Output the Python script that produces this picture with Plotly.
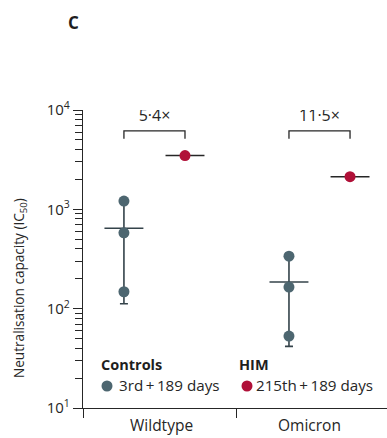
import numpy as np
import plotly.graph_objects as go

# Neutralisation capacity (IC50) per variant
variants = ["Wildtype", "Omicron"]
controls_wildtype = [1210, 580, 148]
controls_omicron = [338, 165, 53]
him_wildtype = [3480]
him_omicron = [2130]

group_controls = "Controls"
group_him = "HIM"
label_controls = "3rd\u2009+\u2009189 days"
label_him = "215th\u2009+\u2009189 days"
y_tickvals = [10, 100, 1000, 10000]
y_ticktext = ["10<sup>1</sup>", "10<sup>2</sup>", "10<sup>3</sup>", "10<sup>4</sup>"]

CTRL = "#4d6670"
HIMC = "#b01038"
INK = "#262626"
BAR = "#34434a"
FONT = "Open Sans"

OFFSET = 0.185      # horizontal offset of each cohort from the variant centre
HALF = 0.118        # half width of the mean line

fig = go.Figure()

ctrl_sets = [controls_wildtype, controls_omicron]
him_sets = [him_wildtype, him_omicron]

for gi, (ctrl, him) in enumerate(zip(ctrl_sets, him_sets)):
    xc = gi - OFFSET
    xh = gi + OFFSET
    c = np.array(ctrl, dtype=float)
    mean_c = c.mean()
    sd_c = c.std(ddof=1)
    mean_h = float(np.mean(him))

    # mean ± SD bar and mean line for controls
    fig.add_trace(go.Scatter(
        x=[xc], y=[mean_c], mode="markers",
        marker=dict(size=1, color="rgba(0,0,0,0)"),
        error_y=dict(type="data", symmetric=False,
                     array=[sd_c], arrayminus=[sd_c],
                     color=BAR, thickness=1.6, width=4),
        error_x=dict(type="constant", value=HALF, color=BAR,
                     thickness=1.4, width=0),
        showlegend=False, hoverinfo="skip"))
    fig.add_trace(go.Scatter(
        x=[xc] * len(ctrl), y=ctrl, mode="markers",
        marker=dict(size=11, color=CTRL),
        showlegend=False))

    # mean line for HIM
    fig.add_trace(go.Scatter(
        x=[xh], y=[mean_h], mode="markers",
        marker=dict(size=1, color="rgba(0,0,0,0)"),
        error_x=dict(type="constant", value=HALF, color=INK,
                     thickness=1.4, width=0),
        showlegend=False, hoverinfo="skip"))
    fig.add_trace(go.Scatter(
        x=[xh], y=him, mode="markers",
        marker=dict(size=11, color=HIMC),
        showlegend=False))

    # fold-change bracket
    ratio = mean_h / mean_c
    top = 10 ** 3.79
    low = 10 ** 3.71
    fig.add_trace(go.Scatter(
        x=[xc, xc, xh, xh], y=[low, top, top, low], mode="lines",
        line=dict(color=INK, width=1.3),
        showlegend=False, hoverinfo="skip"))
    fig.add_trace(go.Scatter(
        x=[gi], y=[10 ** 3.93], mode="text",
        text=[f"{ratio:.1f}".replace(".", "·") + "×"],
        textposition="middle center",
        textfont=dict(family=FONT, size=16, color=INK),
        showlegend=False, hoverinfo="skip"))


def px_x(p):
    return (p - 83) / 304


def px_y(p):
    return (408 - p) / 298


annotations = []
# category labels
for xpos, name in zip([0.04, 0.94], variants):
    annotations.append(dict(x=xpos, xref="x", y=px_y(425), yref="paper",
                            text=name, showarrow=False, yanchor="middle",
                            font=dict(family=FONT, size=15.5, color=INK)))

annotations += [
    dict(x=px_x(99), y=px_y(364), xref="paper", yref="paper",
         xanchor="left", yanchor="middle",
         text=f"<b>{group_controls}</b>", showarrow=False,
         font=dict(family=FONT, size=14.5, color="#1e1e1e")),
    dict(x=px_x(237), y=px_y(364), xref="paper", yref="paper",
         xanchor="left", yanchor="middle",
         text=f"<b>{group_him}</b>", showarrow=False,
         font=dict(family=FONT, size=14.5, color="#1e1e1e")),
    dict(x=px_x(117), y=px_y(385), xref="paper", yref="paper",
         xanchor="left", yanchor="middle",
         text=label_controls, showarrow=False,
         font=dict(family=FONT, size=15.2, color=INK)),
    dict(x=px_x(254), y=px_y(385), xref="paper", yref="paper",
         xanchor="left", yanchor="middle",
         text=label_him, showarrow=False,
         font=dict(family=FONT, size=15.2, color=INK)),
    # axis title
    dict(x=px_x(19), y=px_y(288), xref="paper", yref="paper",
         xanchor="center", yanchor="middle",
         text="Neutralisation capacity (IC<sub>50</sub>)", textangle=-90,
         showarrow=False, font=dict(family=FONT, size=13.6, color=INK)),
    # panel letter
    dict(x=px_x(73), y=px_y(22), xref="paper", yref="paper",
         xanchor="center", yanchor="middle",
         text="<b>C</b>", showarrow=False,
         font=dict(family=FONT, size=17, color="#1e1e1e")),
]

shapes = []
for cx, col in [(107, CTRL), (247, HIMC)]:
    shapes.append(dict(type="circle", xref="paper", yref="paper",
                       xsizemode="pixel", ysizemode="pixel",
                       xanchor=px_x(cx), yanchor=px_y(386),
                       x0=-5.5, x1=5.5, y0=-5.5, y1=5.5,
                       fillcolor=col, line=dict(width=0)))

fig.update_layout(
    width=387, height=438,
    margin=dict(l=83, r=0, t=110, b=30),
    plot_bgcolor="white", paper_bgcolor="white",
    font=dict(family=FONT, size=12, color=INK),
    annotations=annotations, shapes=shapes,
    showlegend=False,
)
fig.update_xaxes(
    range=[-0.433, 1.409], showgrid=False, zeroline=False,
    showline=True, linecolor=INK, linewidth=1.3,
    tickvals=[-0.433, 0.5], ticktext=["", ""],
    ticks="outside", ticklen=9, tickcolor=INK, tickwidth=1.3,
)
fig.update_yaxes(
    type="log", range=[1, 4], showgrid=False, zeroline=False,
    showline=True, linecolor=INK, linewidth=1.3,
    tickvals=y_tickvals, ticktext=y_ticktext,
    ticks="outside", ticklen=9, tickcolor=INK, tickwidth=1.3,
    tickfont=dict(family=FONT, size=15, color=INK),
    minor=dict(ticks="outside", ticklen=7, tickcolor=INK, tickwidth=1,
               dtick="D1", showgrid=False),
)

fig.write_html("out.html")
